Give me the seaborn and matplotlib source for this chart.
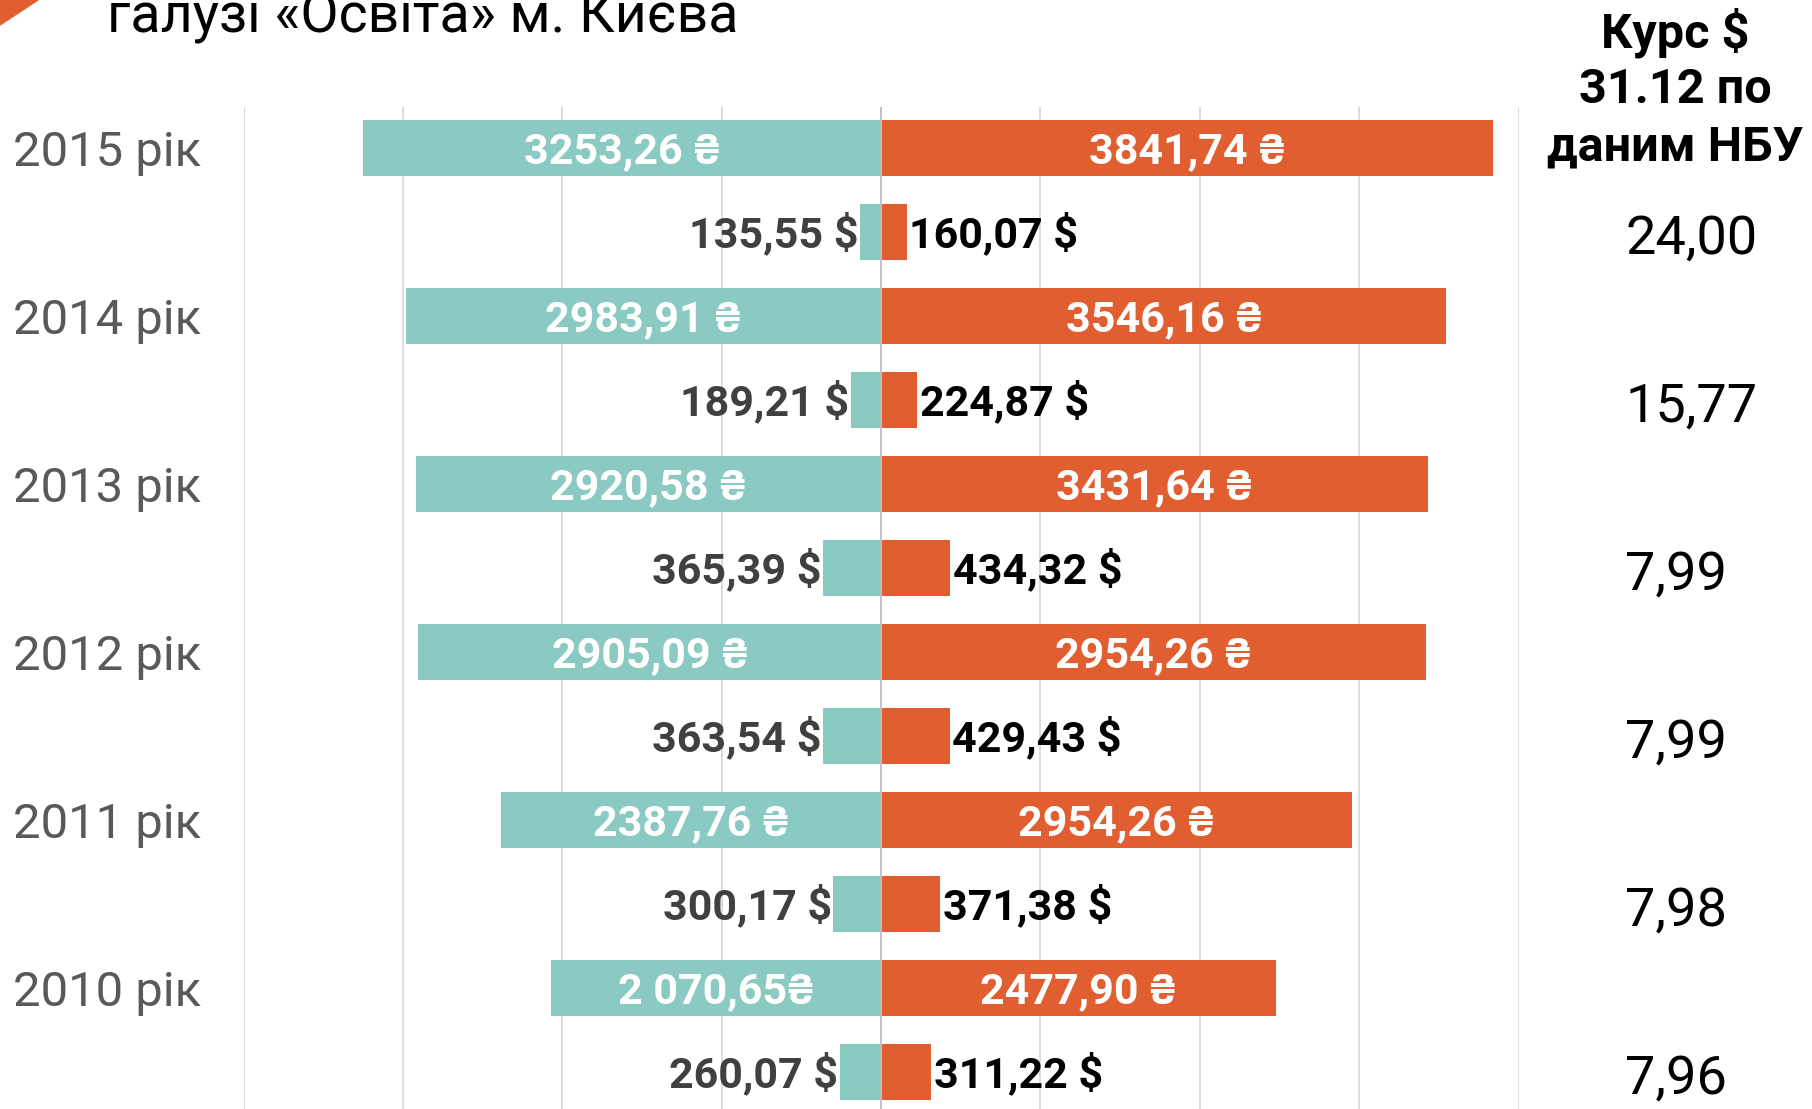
import pandas as pd
import seaborn as sns
import matplotlib.pyplot as plt
from matplotlib.patches import Polygon
from matplotlib.transforms import blended_transform_factory

# Values (top row = 2015)
years = ['2015', '2014', '2013', '2012', '2011', '2010']
left_uah = [3253.26, 2983.91, 2920.58, 2905.09, 2387.76, 2070.65]
right_uah = [3841.74, 3546.16, 3431.64, 3420.00, 2954.26, 2477.90]
left_usd = [135.55, 189.21, 365.39, 363.54, 300.17, 260.07]
right_usd = [160.07, 224.87, 434.32, 429.43, 371.38, 311.22]

left_uah_labels = ['3253,26 ₴', '2983,91 ₴', '2920,58 ₴', '2905,09 ₴', '2387,76 ₴', '2 070,65₴']
right_uah_labels = ['3841,74 ₴', '3546,16 ₴', '3431,64 ₴', '2954,26 ₴', '2954,26 ₴', '2477,90 ₴']
left_usd_labels = ['135,55 $', '189,21 $', '365,39 $', '363,54 $', '300,17 $', '260,07 $']
right_usd_labels = ['160,07 $', '224,87 $', '434,32 $', '429,43 $', '371,38 $', '311,22 $']

rates = ['24,00', '15,77', '7,99', '7,99', '7,98', '7,96']
rate_header = ['Курс $', '31.12 по', 'даним НБУ']
title_text = 'галузі «Освіта» м. Києва'

teal = '#8BCAC3'
orange = '#E05E2F'

# Build long table: two rows per year (UAH, then USD)
rows, left_vals, right_vals = [], [], []
for i, y in enumerate(years):
    rows += [y + ' uah', y + ' usd']
    left_vals += [left_uah[i], left_usd[i]]
    right_vals += [right_uah[i], right_usd[i]]

df = pd.concat([
    pd.DataFrame({'row': rows, 'value': [-v for v in left_vals], 'side': 'left'}),
    pd.DataFrame({'row': rows, 'value': right_vals, 'side': 'right'}),
])

sns.set_theme(style='white')
plt.rcParams['font.family'] = ['Roboto', 'DejaVu Sans']

fig = plt.figure(figsize=(18.12, 11.09), dpi=100)
ax = fig.add_axes([243.8 / 1812, 0, (1518.5 - 243.8) / 1812, 1 - 107 / 1109])

sns.barplot(data=df, y='row', x='value', hue='side', order=rows,
            hue_order=['left', 'right'], palette={'left': teal, 'right': orange},
            dodge=False, width=0.66, saturation=1, linewidth=0, legend=False, ax=ax)

ax.set_xlim(-4000, 4000)
ax.set_ylim(11.44, -0.488)
ax.set_xticks(range(-4000, 4001, 1000))
ax.xaxis.grid(True, color='#D9D9D9', linewidth=1.3)
ax.set_axisbelow(True)
ax.axvline(0, color='#BFBFBF', linewidth=1.3, zorder=3)
for s in ax.spines.values():
    s.set_visible(False)
ax.set_xlabel('')
ax.set_ylabel('')
ax.tick_params(axis='x', length=0, labelbottom=False)

# year labels at far left
ylabels = []
for y in years:
    ylabels += [y + ' рік', '']
ax.set_yticks(range(len(rows)), ylabels)
ax.tick_params(axis='y', length=0, pad=166)
for lbl in ax.get_yticklabels():
    lbl.set_ha('left')
    lbl.set_color('#595959')
    lbl.set_fontsize(35.3)

# bar labels
left_c, right_c = ax.containers[0], ax.containers[1]
inside_l, outside_l, inside_r, outside_r = [], [], [], []
for i in range(len(years)):
    inside_l += [left_uah_labels[i], '']
    outside_l += ['', left_usd_labels[i]]
    inside_r += [right_uah_labels[i], '']
    outside_r += ['', right_usd_labels[i]]

lab_kw = dict(fontsize=31, fontweight='bold')
texts_in = ax.bar_label(left_c, labels=inside_l, label_type='center', color='white', **lab_kw)
texts_in += ax.bar_label(right_c, labels=inside_r, label_type='center', color='white', **lab_kw)
texts_out = ax.bar_label(left_c, labels=outside_l, label_type='edge', padding=1, color='#404040', **lab_kw)
texts_out += ax.bar_label(right_c, labels=outside_r, label_type='edge', padding=2, color='black', **lab_kw)
for t in texts_in:
    t.xyann = (t.xyann[0], t.xyann[1] - 2.5)
for t in texts_out:
    t.xyann = (t.xyann[0], t.xyann[1] - 1.5)

# exchange rate column
tr = blended_transform_factory(fig.transFigure, ax.transData)
for i, r in enumerate(rates):
    ax.text(1625 / 1812, 2 * i + 1 + 0.08, r, transform=tr, fontsize=39,
            color='black', ha='left', va='center', clip_on=False)

for k, line in enumerate(rate_header):
    fig.text(1675 / 1812, 1 - (33 + 57 * k) / 1109, line, fontsize=35,
             fontweight='bold', color='black', ha='center', va='center')

# clipped title and corner mark
fig.text(107 / 1812, 1 - 33 / 1109, title_text, fontsize=40, color='black',
         ha='left', va='baseline')
fig.patches.append(Polygon([(0, 1), (38 / 1812, 1), (0, 1 - 25 / 1109)],
                           closed=True, color=orange, transform=fig.transFigure))

fig.savefig('out.png', dpi=100)
